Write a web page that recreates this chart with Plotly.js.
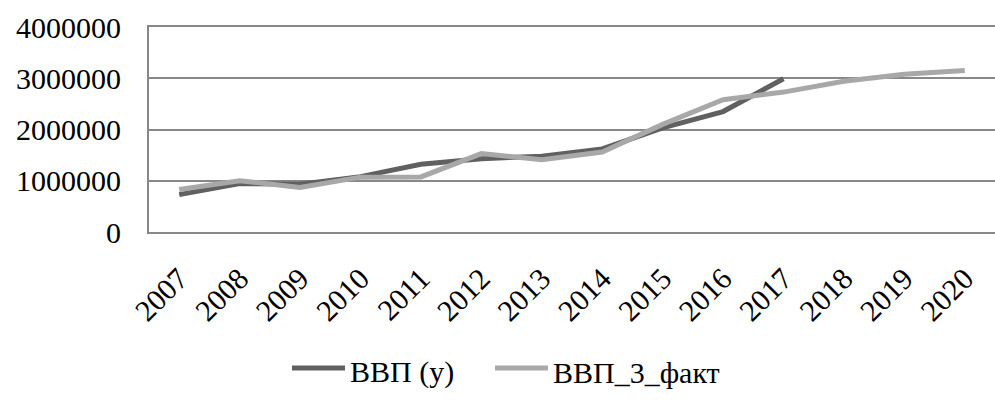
<!DOCTYPE html>
<html>
<head>
<meta charset="utf-8">
<script src="https://cdn.plot.ly/plotly-3.0.1.min.js"></script>
<style>
html,body{margin:0;padding:0;background:#fff;overflow:hidden;}
#chart{width:995px;height:403px;}
#chart svg text{font-family:'Liberation Serif','Times New Roman',serif !important;}
</style>
</head>
<body>
<div id="chart"></div>
<script>
const years = ['2007','2008','2009','2010','2011','2012','2013','2014','2015','2016','2017','2018','2019','2020'];
const seriesNames = ['ВВП (у)', 'ВВП_3_факт'];
const gdpY = [730000, 945000, 930000, 1080000, 1320000, 1430000, 1480000, 1620000, 2030000, 2350000, 2990000, null, null, null];
const gdp3Fact = [830000, 1000000, 870000, 1070000, 1075000, 1530000, 1410000, 1560000, 2100000, 2580000, 2730000, 2940000, 3080000, 3150000];
const yTicks = [0, 1000000, 2000000, 3000000, 4000000];
const yTickText = ['0', '1000000', '2000000', '3000000', '4000000'];
const seriesColors = ['#606060', '#a8a8a8'];

const fam = 'Liberation Serif';
const traces = [
  {x: years, y: gdpY, name: seriesNames[0], type: 'scatter', mode: 'lines',
   line: {color: seriesColors[0], width: 5}, connectgaps: false, showlegend: false},
  {x: years, y: gdp3Fact, name: seriesNames[1], type: 'scatter', mode: 'lines',
   line: {color: seriesColors[1], width: 5}, showlegend: false}
];

const legendY = -0.664;
const legendTextY = -0.684;
const legendItems = [{x0: 0.169, x1: 0.2317, tx: 0.2355}, {x0: 0.409, x1: 0.4716, tx: 0.4755}];
const shapes = legendItems.map((it, i) => ({
  type: 'line', xref: 'paper', yref: 'paper', x0: it.x0, x1: it.x1, y0: legendY, y1: legendY,
  line: {color: seriesColors[i], width: 5}
}));
const annotations = legendItems.map((it, i) => ({
  text: seriesNames[i], xref: 'paper', yref: 'paper', x: it.tx, y: legendTextY,
  xanchor: 'left', yanchor: 'middle', showarrow: false,
  font: {family: fam, size: 30, color: '#000'}
}));

const layout = {
  width: 995, height: 403,
  margin: {l: 149, r: 0, t: 27, b: 171},
  paper_bgcolor: '#fff', plot_bgcolor: '#fff',
  font: {family: fam, size: 30, color: '#000'},
  xaxis: {type: 'category', tickangle: -45, showgrid: false, showline: true, mirror: true,
          linecolor: '#888888', linewidth: 2, ticks: '',
          tickfont: {family: fam, size: 30, color: '#000'},
          range: [-0.5, 13.5], ticklabelstandoff: 15},
  yaxis: {range: [0, 4000000], tickvals: yTicks, ticktext: yTickText, showline: true,
          linecolor: '#888888', linewidth: 2, gridcolor: '#888888', gridwidth: 2,
          zeroline: false, ticks: '',
          tickfont: {family: fam, size: 30, color: '#000'}, ticklabelstandoff: 20},
  showlegend: false,
  shapes: shapes,
  annotations: annotations,
  hovermode: false
};
Plotly.newPlot('chart', traces, layout, {staticPlot: true});
</script>
</body>
</html>
